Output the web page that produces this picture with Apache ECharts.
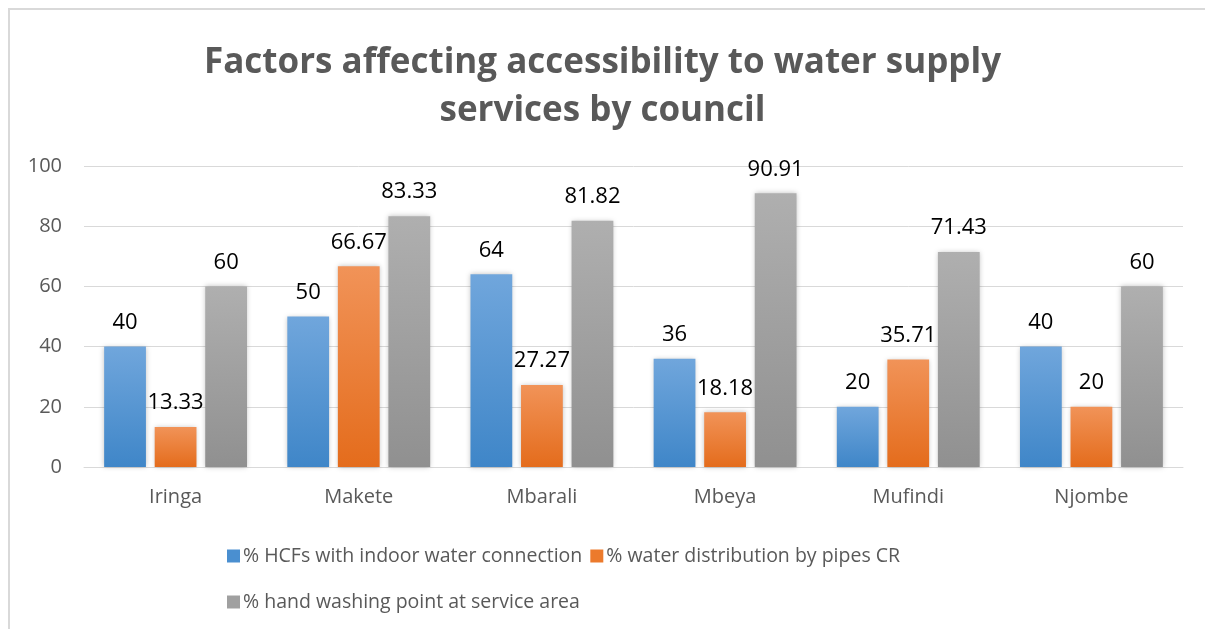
<!DOCTYPE html>
<html>
<head>
<meta charset="utf-8">
<script src="https://cdn.jsdelivr.net/npm/echarts@6/dist/echarts.min.js"></script>
<style>
html,body{margin:0;padding:0;background:#fff;}
#frame{position:absolute;left:8px;top:8px;width:1210px;height:640px;border-left:2px solid #d9d9d9;border-top:2px solid #d9d9d9;box-sizing:border-box;}
#chart{position:absolute;left:0;top:0;width:1205px;height:629px;}
</style>
</head>
<body>
<div id="frame"></div>
<div id="chart"></div>
<script>
const titleText = 'Factors affecting accessibility to water supply\nservices by council';
const categories = ['Iringa', 'Makete', 'Mbarali', 'Mbeya', 'Mufindi', 'Njombe'];
const seriesNames = ['% HCFs with indoor water connection', '% water distribution by pipes CR', '% hand washing point at service area'];
const hcfIndoor = [40, 50, 64, 36, 20, 40];
const pipesCR = [13.33, 66.67, 27.27, 18.18, 35.71, 20];
const handWashing = [60, 83.33, 81.82, 90.91, 71.43, 60];
const yTicks = [0, 20, 40, 60, 80, 100];

const font = '"Open Sans", sans-serif';
const grad = (top, bottom) => new echarts.graphic.LinearGradient(0, 0, 0, 1, [{offset: 0, color: top}, {offset: 1, color: bottom}]);
const colors = [
  grad('#70a6dc', '#3f86c8'),
  grad('#f19358', '#e46c1c'),
  grad('#afafaf', '#909090')
];
const legendColors = ['#4a8fd0', '#ec7a2c', '#a0a0a0'];
const dataSets = [hcfIndoor, pipesCR, handWashing];

const chart = echarts.init(document.getElementById('chart'));
chart.setOption({
  animation: false,
  backgroundColor: 'transparent',
  title: {
    text: titleText,
    left: 'center',
    top: 34,
    textStyle: {
      fontFamily: font,
      fontSize: 35,
      fontWeight: 'bold',
      color: '#595959',
      lineHeight: 48
    }
  },
  legend: {
    left: 222,
    top: 532,
    width: 780,
    itemWidth: 13,
    itemHeight: 13,
    itemGap: 8,
    icon: 'rect',
    textStyle: {fontFamily: font, fontSize: 19.5, color: '#595959', lineHeight: 38, padding: [0, 0, 0, -2]},
    data: seriesNames.map((n, i) => ({name: n, itemStyle: {color: legendColors[i]}}))
  },
  grid: {left: 84, right: 22, top: 166, bottom: 162},
  xAxis: {
    type: 'category',
    data: categories,
    axisLine: {lineStyle: {color: '#d9d9d9', width: 1}},
    axisTick: {show: false},
    axisLabel: {fontFamily: font, fontSize: 20, color: '#595959', margin: 20}
  },
  yAxis: {
    type: 'value',
    min: yTicks[0],
    max: yTicks[yTicks.length - 1],
    interval: 20,
    axisLine: {show: false},
    axisTick: {show: false},
    splitLine: {lineStyle: {color: '#d9d9d9', width: 1}},
    axisLabel: {fontFamily: font, fontSize: 20, color: '#595959', margin: 22}
  },
  series: seriesNames.map((n, i) => ({
    name: n,
    type: 'bar',
    data: dataSets[i],
    barGap: '21%',
    barCategoryGap: '22%',
    itemStyle: {color: colors[i], shadowBlur: 5, shadowColor: 'rgba(0,0,0,0.25)'},
    label: {
      show: true,
      position: 'top',
      distance: 13,
      fontFamily: font,
      fontSize: 22,
      color: '#000'
    }
  }))
});
</script>
</body>
</html>
